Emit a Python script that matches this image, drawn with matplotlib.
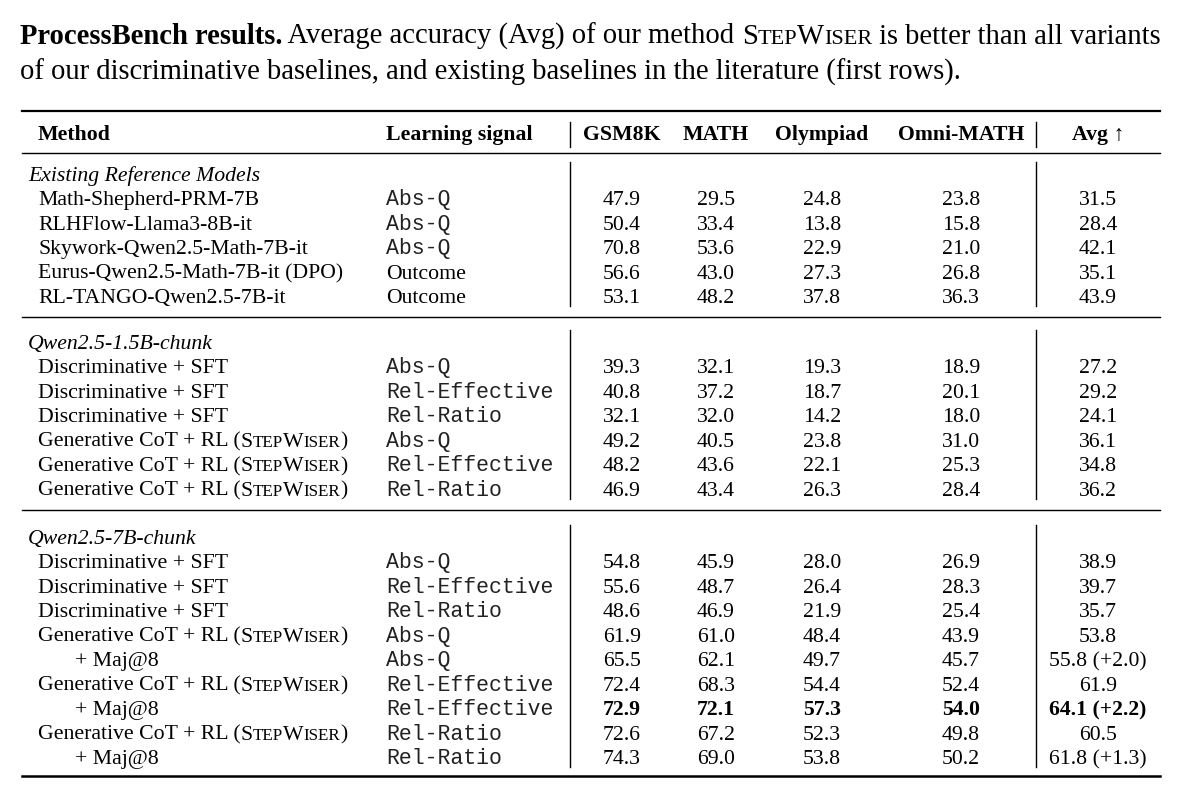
import matplotlib
matplotlib.use('Agg')
import matplotlib.pyplot as plt

SERIF = 'Liberation Serif'
MONO = 'Liberation Mono'

# ---- table data ----
sections = ['Existing Reference Models', 'Qwen2.5-1.5B-chunk', 'Qwen2.5-7B-chunk']
section_sizes = [5, 6, 9]

methods = ['Math-Shepherd-PRM-7B', 'RLHFlow-Llama3-8B-it', 'Skywork-Qwen2.5-Math-7B-it',
           'Eurus-Qwen2.5-Math-7B-it (DPO)', 'RL-TANGO-Qwen2.5-7B-it',
           'Discriminative + SFT', 'Discriminative + SFT', 'Discriminative + SFT',
           'GEN', 'GEN', 'GEN',
           'Discriminative + SFT', 'Discriminative + SFT', 'Discriminative + SFT',
           'GEN', 'MAJ', 'GEN', 'MAJ', 'GEN', 'MAJ']
signals = ['Abs-Q', 'Abs-Q', 'Abs-Q', 'Outcome', 'Outcome',
           'Abs-Q', 'Rel-Effective', 'Rel-Ratio', 'Abs-Q', 'Rel-Effective', 'Rel-Ratio',
           'Abs-Q', 'Rel-Effective', 'Rel-Ratio', 'Abs-Q', 'Abs-Q',
           'Rel-Effective', 'Rel-Effective', 'Rel-Ratio', 'Rel-Ratio']
gsm8k = [47.9, 50.4, 70.8, 56.6, 53.1, 39.3, 40.8, 32.1, 49.2, 48.2, 46.9,
         54.8, 55.6, 48.6, 61.9, 65.5, 72.4, 72.9, 72.6, 74.3]
math_ = [29.5, 33.4, 53.6, 43.0, 48.2, 32.1, 37.2, 32.0, 40.5, 43.6, 43.4,
         45.9, 48.7, 46.9, 61.0, 62.1, 68.3, 72.1, 67.2, 69.0]
olympiad = [24.8, 13.8, 22.9, 27.3, 37.8, 19.3, 18.7, 14.2, 23.8, 22.1, 26.3,
            28.0, 26.4, 21.9, 48.4, 49.7, 54.4, 57.3, 52.3, 53.8]
omni = [23.8, 15.8, 21.0, 26.8, 36.3, 18.9, 20.1, 18.0, 31.0, 25.3, 28.4,
        26.9, 28.3, 25.4, 43.9, 45.7, 52.4, 54.0, 49.8, 50.2]
avg = [31.5, 28.4, 42.1, 35.1, 43.9, 27.2, 29.2, 24.1, 36.1, 34.8, 36.2,
       38.9, 39.7, 35.7, 53.8, 55.8, 61.9, 64.1, 60.5, 61.8]
avg_gain = [None] * 15 + ['+2.0', None, '+2.2', None, '+1.3']
bold_row = 17

headers = ['GSM8K', 'MATH', 'Olympiad', 'Omni-MATH']

fig = plt.figure(figsize=(12, 8.04), dpi=100)
ax = fig.add_axes([0, 0, 1, 1])
ax.set_xlim(0, 1200)
ax.set_ylim(804, 0)
ax.axis('off')
fig.canvas.draw()
renderer = fig.canvas.get_renderer()


def width_px(t):
    bb = t.get_window_extent(renderer=renderer)
    return bb.width


def pieces(x, y, parts, size, weight='normal', style='normal'):
    # draw text pieces one after another (used for small caps)
    for s, scale in parts:
        t = ax.text(x, y, s, fontsize=size * scale, family=SERIF, weight=weight,
                    style=style, va='baseline', ha='left')
        x += width_px(t)
    return x


def stepwiser():
    return [('S', 1.0), ('TEP', 0.78), ('W', 1.0), ('ISER', 0.78)]


# ---- caption ----
cap = 20.6
x = pieces(20, 44, [('ProcessBench results.', 1.0)], cap, weight='bold')
x = pieces(x, 44, [(' Average accuracy (Avg) of our method ', 1.0)] + stepwiser()
           + [(' is better than all variants', 1.0)], cap)
pieces(20, 80, [('of our discriminative baselines, and existing baselines in the literature (first rows).', 1.0)], cap)

# ---- rules ----
x0, x1 = 22, 1160
ax.plot([x0, x1], [112, 112], color='black', lw=1.6)
ax.plot([x0, x1], [154, 154], color='black', lw=1.0)
ax.plot([x0, x1], [777, 777], color='black', lw=1.8)

vx = [570, 1036]
col_x = [622, 716, 822, 961]
avg_x = 1098
sig_x = 386
fs = 15.7
mono_fs = 15.5

# header row
hy = 140
ax.text(38, hy, 'Method', fontsize=fs, family=SERIF, weight='bold', va='baseline')
ax.text(sig_x, hy, 'Learning signal', fontsize=fs, family=SERIF, weight='bold', va='baseline')
for h, cx in zip(headers, col_x):
    ax.text(cx, hy, h, fontsize=fs, family=SERIF, weight='bold', va='baseline', ha='center')
ax.text(avg_x, hy, 'Avg \u2191', fontsize=fs, family=[SERIF, 'DejaVu Serif'], weight='bold',
        va='baseline', ha='center')
for v in vx:
    ax.plot([v, v], [123, 148], color='black', lw=1.0)

# body
sec_y = [175, 343, 538]
pitch = 24.45
row = 0
for s_idx, (name, n) in enumerate(zip(sections, section_sizes)):
    y0 = sec_y[s_idx]
    ax.text(28, y0 + 6, name, fontsize=fs, family=SERIF, style='italic', va='baseline')
    for k in range(n):
        y = y0 + pitch * (k + 1) + 6
        m = methods[row]
        if m == 'GEN':
            pieces(38, y, [('Generative CoT + RL (', 1.0)] + stepwiser() + [(')', 1.0)], fs)
        elif m == 'MAJ':
            ax.text(75, y, '+ Maj@8', fontsize=fs, family=SERIF, va='baseline')
        else:
            ax.text(38, y, m, fontsize=fs, family=SERIF, va='baseline')
        sig = signals[row]
        if sig == 'Outcome':
            ax.text(sig_x, y, sig, fontsize=fs, family=SERIF, va='baseline')
        else:
            ax.text(sig_x, y, sig, fontsize=mono_fs, family=MONO, va='baseline', color='#222222')
        w = 'bold' if row == bold_row else 'normal'
        for vals, cx in zip([gsm8k, math_, olympiad, omni], col_x):
            ax.text(cx, y, f'{vals[row]:.1f}', fontsize=fs, family=SERIF, weight=w,
                    va='baseline', ha='center')
        a = f'{avg[row]:.1f}'
        if avg_gain[row]:
            a += f' ({avg_gain[row]})'
        ax.text(avg_x, y, a, fontsize=fs, family=SERIF, weight=w, va='baseline', ha='center')
        row += 1
    top = y0 - 12
    bot = y0 + pitch * n + 10
    for v in vx:
        ax.plot([v, v], [top, bot], color='black', lw=1.0)
    if s_idx < len(sections) - 1:
        ly = bot + 11
        ax.plot([x0, x1], [ly, ly], color='black', lw=1.0)

fig.savefig('out.png', dpi=100)
